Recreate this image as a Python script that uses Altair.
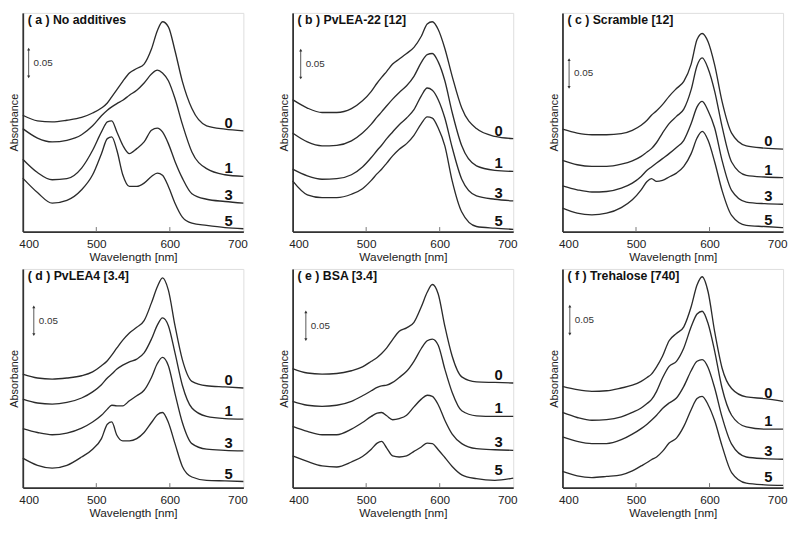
import altair as alt
import pandas as pd

FONT = "Liberation Sans"

# wavelength grid (nm)
WL = [400, 420, 440, 460, 480, 495, 507, 515, 521, 528, 536, 545, 555, 565,
      575, 583, 590, 598, 607, 617, 630, 650, 675, 700]
SERIES = ["0", "1", "3", "5"]

TITLES = ["( a ) No additives", "( b ) PvLEA-22 [12]", "( c ) Scramble [12]",
          "( d ) PvLEA4 [3.4]", "( e ) BSA [3.4]", "( f ) Trehalose [740]"]

# absorbance (offset-stacked) per panel, series 0, 1, 3, 5
a0 = [0.209,0.199,0.197,0.200,0.205,0.213,0.222,0.231,0.242,0.255,0.270,0.285,0.293,0.301,0.328,0.361,0.377,0.368,0.325,0.270,0.221,0.190,0.184,0.181]
a1 = [0.185,0.168,0.161,0.164,0.174,0.190,0.208,0.218,0.224,0.230,0.236,0.245,0.254,0.267,0.283,0.290,0.285,0.271,0.239,0.193,0.143,0.113,0.102,0.099]
a3 = [0.130,0.106,0.093,0.095,0.114,0.146,0.179,0.197,0.199,0.179,0.155,0.140,0.149,0.161,0.182,0.186,0.179,0.158,0.126,0.096,0.068,0.058,0.054,0.051]
a5 = [0.096,0.070,0.051,0.056,0.075,0.102,0.140,0.167,0.170,0.146,0.102,0.081,0.081,0.087,0.099,0.105,0.101,0.081,0.051,0.026,0.015,0.011,0.007,0.005]

b0 = [0.237,0.222,0.214,0.214,0.221,0.235,0.252,0.267,0.277,0.288,0.301,0.310,0.320,0.331,0.351,0.373,0.377,0.363,0.329,0.279,0.222,0.185,0.171,0.167]
b1 = [0.177,0.161,0.154,0.155,0.163,0.177,0.193,0.206,0.215,0.226,0.238,0.250,0.262,0.279,0.304,0.318,0.320,0.305,0.271,0.214,0.154,0.118,0.110,0.108]
b3 = [0.112,0.100,0.094,0.095,0.102,0.116,0.133,0.146,0.155,0.167,0.179,0.192,0.204,0.219,0.244,0.258,0.254,0.237,0.204,0.151,0.094,0.064,0.058,0.055]
b5 = [0.091,0.066,0.061,0.061,0.067,0.077,0.092,0.104,0.112,0.123,0.136,0.148,0.158,0.173,0.194,0.206,0.204,0.186,0.154,0.091,0.035,0.009,0.006,0.004]

c0 = [0.184,0.177,0.174,0.174,0.176,0.182,0.191,0.200,0.209,0.217,0.228,0.243,0.257,0.270,0.301,0.345,0.356,0.341,0.299,0.234,0.177,0.154,0.150,0.148]
c1 = [0.128,0.120,0.117,0.117,0.121,0.127,0.135,0.143,0.149,0.160,0.177,0.194,0.207,0.220,0.255,0.298,0.312,0.293,0.252,0.189,0.125,0.101,0.098,0.097]
c3 = [0.082,0.075,0.071,0.072,0.078,0.087,0.099,0.110,0.116,0.123,0.131,0.140,0.151,0.164,0.194,0.224,0.234,0.217,0.186,0.128,0.074,0.053,0.050,0.049]
c5 = [0.042,0.033,0.030,0.033,0.043,0.057,0.075,0.090,0.095,0.090,0.092,0.098,0.105,0.117,0.140,0.168,0.180,0.164,0.125,0.074,0.029,0.011,0.009,0.007]

d0 = [0.204,0.197,0.195,0.197,0.201,0.208,0.219,0.228,0.238,0.251,0.265,0.278,0.288,0.300,0.332,0.361,0.377,0.355,0.291,0.230,0.191,0.183,0.181,0.179]
d1 = [0.159,0.152,0.150,0.153,0.161,0.172,0.185,0.197,0.204,0.213,0.220,0.226,0.231,0.242,0.267,0.292,0.305,0.291,0.242,0.184,0.143,0.128,0.124,0.123]
d3 = [0.106,0.099,0.095,0.098,0.107,0.118,0.130,0.141,0.148,0.147,0.147,0.156,0.165,0.175,0.198,0.223,0.234,0.219,0.169,0.117,0.079,0.069,0.067,0.066]
d5 = [0.053,0.040,0.035,0.040,0.055,0.069,0.088,0.114,0.118,0.094,0.084,0.084,0.088,0.099,0.117,0.131,0.135,0.117,0.079,0.038,0.019,0.013,0.012,0.011]

e0 = [0.214,0.206,0.204,0.205,0.210,0.217,0.227,0.234,0.241,0.251,0.266,0.281,0.287,0.297,0.325,0.351,0.365,0.348,0.290,0.236,0.199,0.190,0.189,0.188]
e1 = [0.155,0.148,0.146,0.148,0.155,0.165,0.174,0.180,0.183,0.184,0.189,0.198,0.209,0.227,0.250,0.264,0.267,0.256,0.213,0.171,0.138,0.129,0.128,0.128]
e3 = [0.110,0.101,0.095,0.095,0.105,0.117,0.128,0.134,0.135,0.129,0.122,0.124,0.130,0.145,0.159,0.166,0.164,0.149,0.121,0.096,0.079,0.070,0.068,0.067]
e5 = [0.057,0.047,0.039,0.037,0.046,0.056,0.069,0.080,0.083,0.071,0.057,0.055,0.057,0.065,0.073,0.080,0.079,0.068,0.054,0.038,0.023,0.016,0.013,0.017]

f0 = [0.182,0.176,0.173,0.174,0.179,0.184,0.191,0.198,0.204,0.217,0.236,0.264,0.277,0.289,0.325,0.364,0.379,0.352,0.280,0.215,0.178,0.163,0.160,0.155]
f1 = [0.135,0.126,0.121,0.122,0.127,0.135,0.143,0.151,0.158,0.173,0.197,0.218,0.227,0.251,0.289,0.312,0.317,0.295,0.245,0.179,0.130,0.109,0.105,0.105]
f3 = [0.091,0.083,0.079,0.079,0.086,0.096,0.106,0.114,0.121,0.130,0.142,0.152,0.161,0.182,0.210,0.227,0.230,0.216,0.179,0.127,0.078,0.055,0.052,0.051]
f5 = [0.029,0.021,0.018,0.020,0.023,0.030,0.039,0.045,0.050,0.055,0.065,0.080,0.089,0.110,0.140,0.160,0.164,0.149,0.120,0.075,0.027,0.008,0.005,0.004]

PANELS = [[a0, a1, a3, a5], [b0, b1, b3, b5], [c0, c1, c3, c5],
          [d0, d1, d3, d5], [e0, e1, e3, e5], [f0, f1, f3, f5]]

# scale bar (wavelength position, bottom absorbance) and its length
BAR_WL = [408, 411, 409, 415, 418, 410]
BAR_BOTTOM = [0.278, 0.276, 0.259, 0.275, 0.266, 0.276]
BAR_LEN = 0.05
LABEL_WL = 680
INNER_TICKS = [500, 600]
INNER_TICK_LEN = 0.008

W, H = 224, 222
INK = "#2b2b2b"

xscale = alt.Scale(domain=[400, 700], nice=False, zero=False)
yscale = alt.Scale(domain=[0, 0.393], nice=False, zero=False)
xaxis = alt.Axis(values=[400, 500, 600, 700], title="Wavelength [nm]", grid=False,
                 ticks=False, labelPadding=7, titlePadding=2, labelFlush=True,
                 labelFlushOffset=4,
                 labelFontSize=12, titleFontSize=12, titleFontWeight="normal",
                 labelFont=FONT, titleFont=FONT, labelColor="#222", titleColor="#222",
                 domainColor="#333", domainWidth=1.8)
yaxis = alt.Axis(title="Absorbance", labels=False, ticks=False, grid=False,
                 titleFontSize=11, titleFontWeight="normal", titleFont=FONT,
                 titleColor="#222", titlePadding=3, domainColor="#333", domainWidth=1.8)


def X():
    return alt.X("wl:Q", scale=xscale, axis=xaxis)


def Y():
    return alt.Y("A:Q", scale=yscale, axis=yaxis)


def panel(i):
    rows = []
    for s, vals in zip(SERIES, PANELS[i]):
        for w, v in zip(WL, vals):
            rows.append({"s": s, "wl": w, "A": v})
    df = pd.DataFrame(rows)
    lines = alt.Chart(df).mark_line(color=INK, strokeWidth=1.35, interpolate="monotone").encode(
        x=X(), y=Y(), detail="s:N")

    lab = pd.DataFrame({"s": SERIES, "wl": [LABEL_WL] * 4,
                        "A": [vals[-1] for vals in PANELS[i]]})
    labels = alt.Chart(lab).mark_text(font=FONT, fontSize=15, fontWeight="bold", color="#111",
                                      baseline="alphabetic", dy=-3).encode(
        x=X(), y=Y(), text="s:N")

    tk = pd.DataFrame({"wl": INNER_TICKS, "A": [0, 0], "A2": [INNER_TICK_LEN] * 2})
    ticks = alt.Chart(tk).mark_rule(color="#777", strokeWidth=1).encode(x=X(), y=Y(), y2="A2:Q")

    bx, bb = BAR_WL[i], BAR_BOTTOM[i]
    bar = pd.DataFrame({"wl": [bx], "A": [bb], "A2": [bb + BAR_LEN]})
    rule = alt.Chart(bar).mark_rule(color="#555", strokeWidth=1).encode(x=X(), y=Y(), y2="A2:Q")
    heads = pd.DataFrame({"wl": [bx, bx], "A": [bb, bb + BAR_LEN], "h": ["d", "u"]})
    arrows = alt.Chart(heads).mark_point(filled=True, size=10, color="#333", opacity=1).encode(
        x=X(), y=Y(),
        shape=alt.Shape("h:N", scale=alt.Scale(domain=["d", "u"], range=["triangle-down", "triangle-up"]),
                        legend=None))
    tdf = pd.DataFrame({"wl": [bx], "A": [bb + BAR_LEN / 2]})
    btxt = alt.Chart(tdf).mark_text(font=FONT, fontSize=10, color="#333", align="left",
                                    baseline="middle", dx=5).encode(
        x=X(), y=Y(), text=alt.value("0.05"))

    ttl = alt.Chart(pd.DataFrame({"t": [TITLES[i]]})).mark_text(
        font=FONT, fontSize=12.5, fontWeight="bold", color="#111", align="left",
        baseline="alphabetic").encode(x=alt.value(5), y=alt.value(11), text="t:N")

    return alt.layer(lines, labels, ticks, rule, arrows, btxt, ttl).properties(width=W, height=H)


row1 = alt.hconcat(panel(0), panel(1), panel(2), spacing=30)
row2 = alt.hconcat(panel(3), panel(4), panel(5), spacing=30)
chart = alt.vconcat(row1, row2, spacing=5).properties(padding=0).configure_view(
    stroke=None).configure(background="white")

chart.save("out.html", embed_options={"renderer": "svg", "actions": False})
